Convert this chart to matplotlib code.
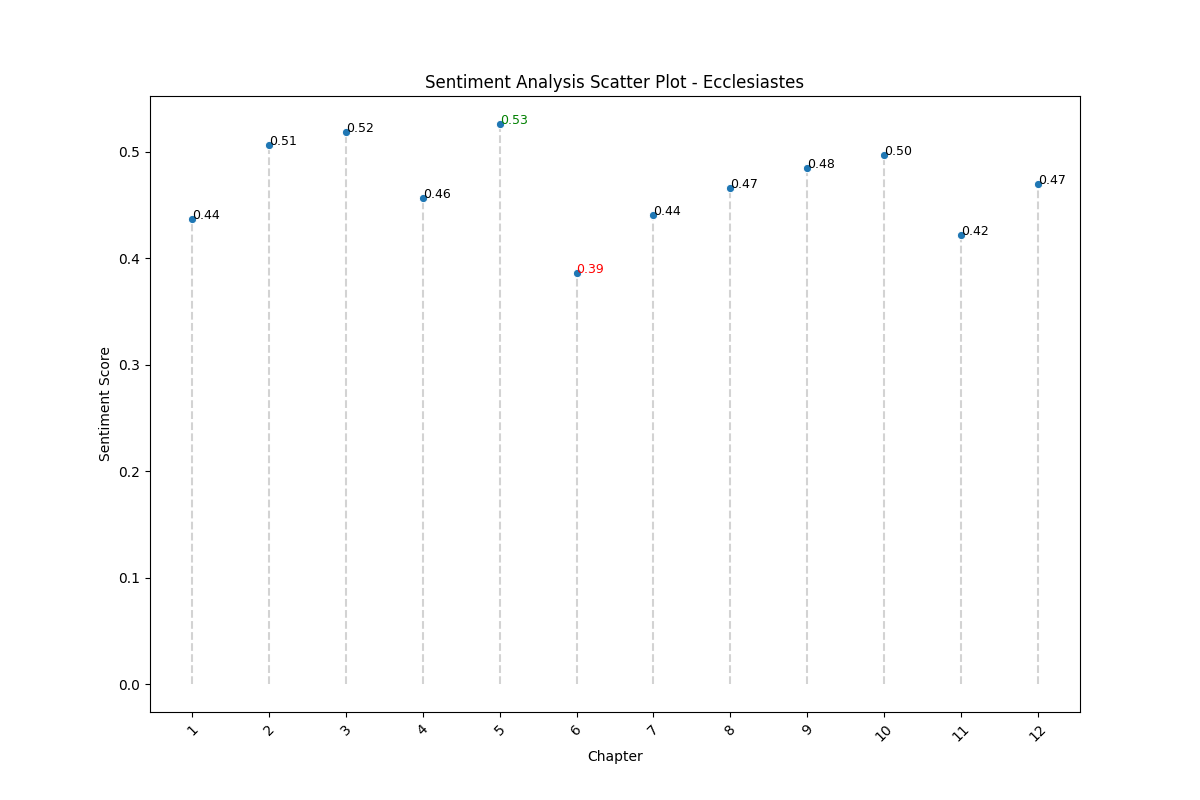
import matplotlib
matplotlib.use("Agg")
import matplotlib.pyplot as plt

chapters = [1, 2, 3, 4, 5, 6, 7, 8, 9, 10, 11, 12]
scores = [0.437, 0.5066, 0.5188, 0.4568, 0.5263, 0.3863, 0.4408, 0.4662, 0.485, 0.4972, 0.422, 0.470]

fig, ax = plt.subplots(figsize=(12, 8), dpi=100)
ax.scatter(chapters, scores, s=36, color="#1f77b4", edgecolors="white", linewidths=0.75, zorder=3)
ax.vlines(chapters, 0, scores, colors="lightgray", linestyles="dashed")

mx = max(scores)
mn = min(scores)
for c, s in zip(chapters, scores):
    col = "green" if s == mx else ("red" if s == mn else "black")
    ax.text(c, s, f"{s:.2f}", fontsize=9, color=col)

ax.set_title("Sentiment Analysis Scatter Plot - Ecclesiastes")
ax.set_xlabel("Chapter")
ax.set_ylabel("Sentiment Score")
ax.set_xticks(chapters)
ax.set_xticklabels([str(c) for c in chapters], rotation=45)
fig.savefig("out.png")
